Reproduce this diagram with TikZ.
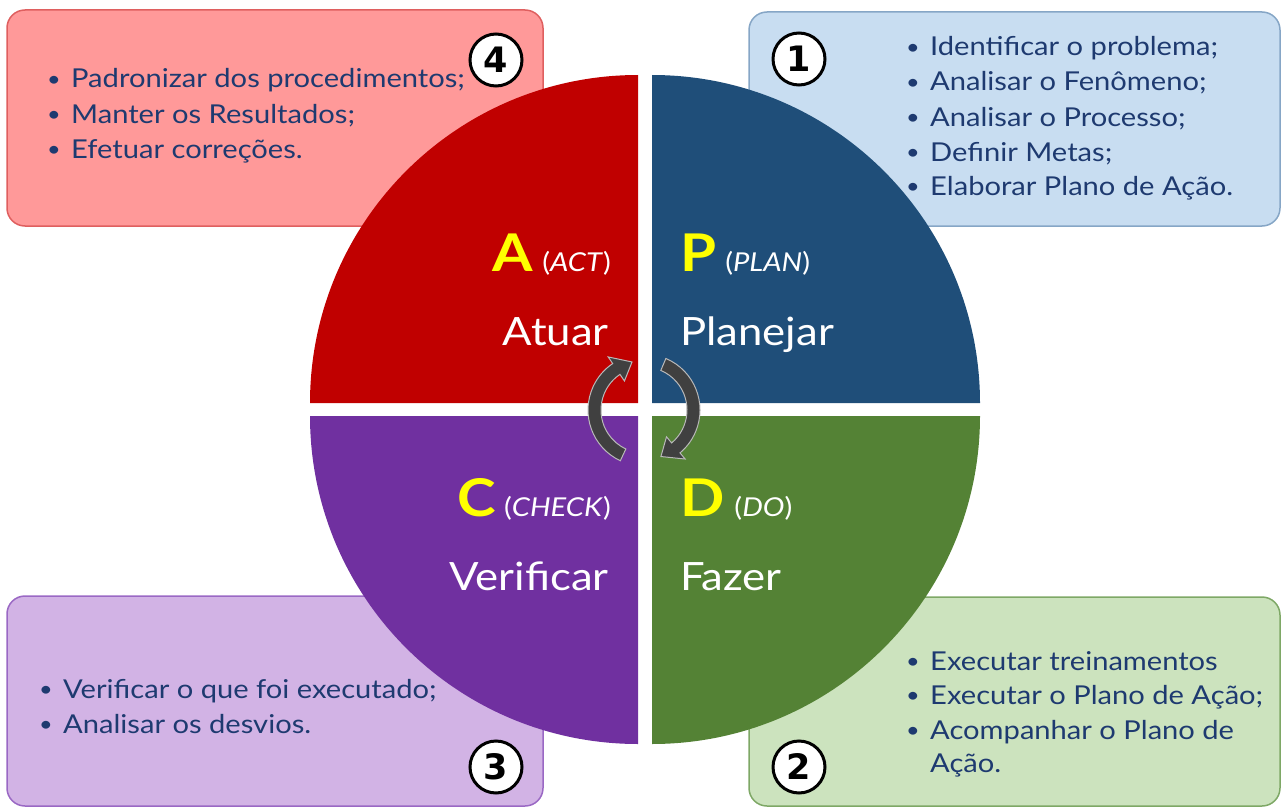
\documentclass[tikz,border=0pt]{standalone}
\usepackage{fontspec}
\setmainfont{Lato}[FakeStretch=1.12]
\newfontfamily\numfont{DejaVu Sans}
\usetikzlibrary{calc}
\definecolor{qred}{HTML}{C00000}
\definecolor{qblue}{HTML}{1F4E79}
\definecolor{qpurple}{HTML}{7030A0}
\definecolor{qgreen}{HTML}{548235}
\definecolor{bred}{HTML}{FF9999}
\definecolor{bredl}{HTML}{DF5F5F}
\definecolor{bblue}{HTML}{C8DDF1}
\definecolor{bbluel}{HTML}{86A6C6}
\definecolor{bpurple}{HTML}{D2B3E5}
\definecolor{bpurplel}{HTML}{9A68C4}
\definecolor{bgreen}{HTML}{CCE3BE}
\definecolor{bgreenl}{HTML}{7EA866}
\definecolor{navy}{HTML}{1E3A70}
\definecolor{arrowgray}{HTML}{404040}
\definecolor{lyellow}{HTML}{FFFF00}
\begin{document}
\begin{tikzpicture}[x=1pt,y=-1pt,
  box/.style={rounded corners=18pt,line width=1.5pt,inner sep=0pt},
  item/.style={anchor=base west,inner sep=0pt,text=navy,font=\fontsize{26}{30}\selectfont},
  biglab/.style={inner sep=0pt,text=white,font=\fontsize{39}{44}\selectfont},
  letlab/.style={inner sep=0pt,text=white,font=\fontsize{26}{30}\selectfont},
  numc/.style={circle,draw=black,line width=3pt,fill=white,minimum size=52pt,inner sep=0pt,font=\numfont\bfseries\fontsize{35}{36}\selectfont},
  curarrow/.style={fill=arrowgray,draw=gray!55,line width=1pt}
]
\useasboundingbox (0,0) rectangle (1283,808);
% boxes
\node[box,fill=bred,draw=bredl,minimum width=536pt,minimum height=216pt] (b4) at (275,118) {};
\node[box,fill=bblue,draw=bbluel,minimum width=531pt,minimum height=214pt] (b1) at (1014.5,119) {};
\node[box,fill=bpurple,draw=bpurplel,minimum width=536pt,minimum height=210pt] (b3) at (275,701) {};
\node[box,fill=bgreen,draw=bgreenl,minimum width=531pt,minimum height=209pt] (b2) at (1014.5,701.5) {};
% quadrants
\fill[qred] (638,403) -- (310,403) arc[start angle=180,end angle=270,radius=328] -- cycle;
\fill[qblue] (652,403) -- (652,75) arc[start angle=270,end angle=360,radius=328] -- cycle;
\fill[qgreen] (652,416) -- (980,416) arc[start angle=0,end angle=90,radius=328] -- cycle;
\fill[qpurple] (638,416) -- (638,744) arc[start angle=90,end angle=180,radius=328] -- cycle;
% box texts
\newcommand{\bul}{\makebox[24pt][l]{\raisebox{1.5pt}{\fontsize{21}{21}\selectfont\textbullet}}}
\node[item] (t11) at (906,56) {\bul Identificar o problema;};
\node[item] (t12) at (906,91) {\bul Analisar o Fenômeno;};
\node[item] (t13) at (906,126) {\bul Analisar o Processo;};
\node[item] (t14) at (906,161) {\bul Definir Metas;};
\node[item] (t15) at (906,195) {\bul Elaborar Plano de Ação.};
\node[item] (t41) at (47,88) {\bul Padronizar dos procedimentos;};
\node[item] (t42) at (47,123) {\bul Manter os Resultados;};
\node[item] (t43) at (47,158) {\bul Efetuar correções.};
\node[item] (t31) at (39,698) {\bul Verificar o que foi executado;};
\node[item] (t32) at (39,733) {\bul Analisar os desvios.};
\node[item] (t21) at (906,670) {\bul Executar treinamentos};
\node[item] (t22) at (906,704) {\bul Executar o Plano de Ação;};
\node[item] (t23) at (906,739) {\bul Acompanhar o Plano de};
\node[item] (t24) at (930,772) {Ação.};
% quadrant labels
\newcommand{\bigL}[1]{{\color{lyellow}\fontsize{52}{56}\selectfont\bfseries #1}}
\node[letlab,anchor=base east] (la) at (611,271) {\bigL{A}\hspace{9pt}(\textit{ACT})};
\node[biglab,anchor=base east] (lat) at (609,345) {Atuar};
\node[letlab,anchor=base west] (lp) at (680,271) {\bigL{P}\hspace{9pt}(\textit{PLAN})};
\node[biglab,anchor=base west] (lpl) at (680,345) {Planejar};
\node[letlab,anchor=base east] (lc) at (611,516) {\bigL{C}\hspace{8pt}(\textit{CHECK})};
\node[biglab,anchor=base east] (lve) at (609,590) {Verificar};
\node[letlab,anchor=base west] (ld) at (680,516) {\bigL{D}\hspace{10pt}(\textit{DO})};
\node[biglab,anchor=base west] (lfa) at (680,590) {Fazer};
% cycle arrows
\coordinate (cc) at (644,410);
\path[curarrow] ($(cc)+(115:56)$) arc[start angle=115,end angle=236,radius=56]
  -- ($(cc)+(236:64)$) -- ($(cc)+(256:49.5)$) -- ($(cc)+(236:35)$)
  -- ($(cc)+(236:43)$) arc[start angle=236,end angle=115,radius=43] -- cycle;
\path[curarrow] ($(cc)+(-67:56)$) arc[start angle=-67,end angle=50,radius=56]
  -- ($(cc)+(50:64)$) -- ($(cc)+(70:49.5)$) -- ($(cc)+(50:35)$)
  -- ($(cc)+(50:43)$) arc[start angle=50,end angle=-67,radius=43] -- cycle;
% number circles
\node[numc] (n1) at (799,59) {1};
\node[numc] (n4) at (496,60) {4};
\node[numc] (n3) at (496,767) {3};
\node[numc] (n2) at (799,767) {2};
\end{tikzpicture}
\end{document}
